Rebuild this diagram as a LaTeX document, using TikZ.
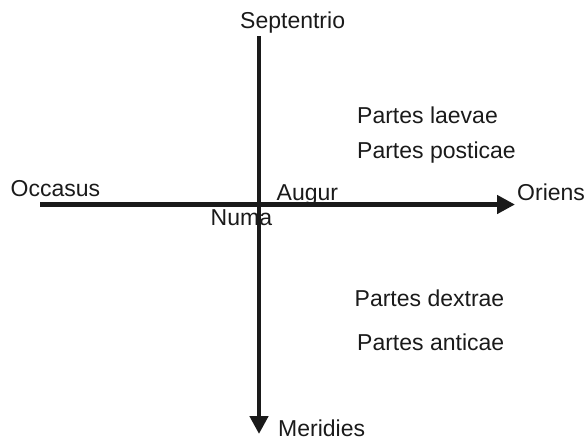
\documentclass[tikz,border=0pt]{standalone}
\usepackage{fontspec}
\setmainfont{Liberation Sans}
\usetikzlibrary{arrows.meta}
\definecolor{ink}{HTML}{1A1A1A}
\begin{document}
\begin{tikzpicture}[x=1pt,y=-1pt,
  lbl/.style={anchor=base west,inner sep=0pt,text=ink,font=\fontsize{23}{27}\selectfont},
  axis/.style={draw=ink,line width=4.8pt,-{Triangle[length=18pt,width=18pt]}}]
\useasboundingbox (0,0) rectangle (585,440);
\coordinate (W) at (40,204.5);
\coordinate (E) at (515,204.5);
\coordinate (N) at (259,36);
\coordinate (S) at (259,434);
\draw[axis] (W) -- (E);
\draw[axis] (N) -- (S);
\node[lbl] (sep) at (240,28) {Septentrio};
\node[lbl] (occ) at (10.5,196.7) {Occasus};
\node[lbl] (ori) at (517,200) {Oriens};
\node[lbl] (aug) at (276.5,200) {Augur};
\node[lbl] (num) at (210.5,225) {Numa};
\node[lbl] (mer) at (278,436) {Meridies};
\node[lbl] (lae) at (357,123) {Partes laevae};
\node[lbl] (pos) at (357,158) {Partes posticae};
\node[lbl] (dex) at (354.5,306.7) {Partes dextrae};
\node[lbl] (ant) at (357,350) {Partes anticae};
\end{tikzpicture}
\end{document}
